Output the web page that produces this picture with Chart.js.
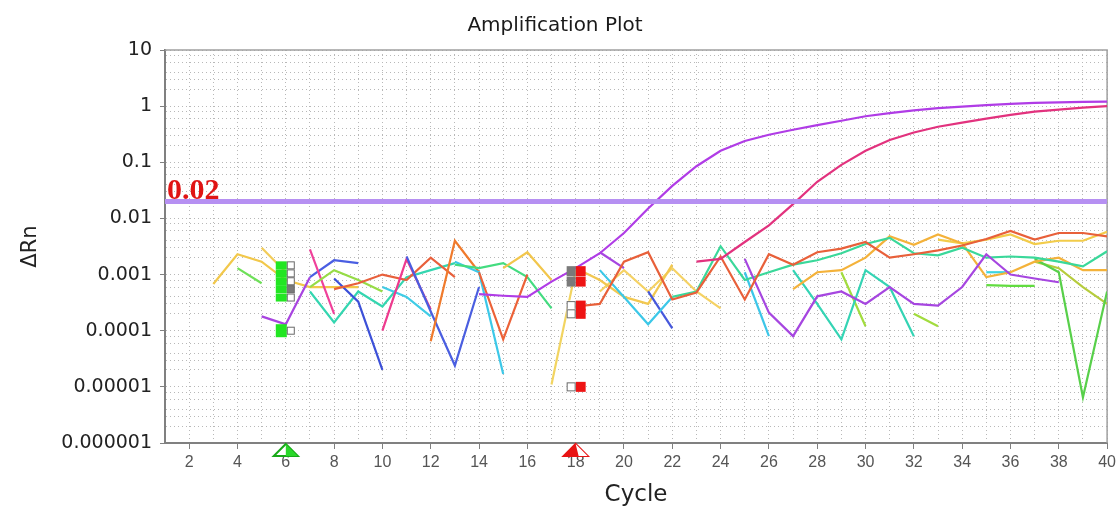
<!DOCTYPE html>
<html>
<head>
<meta charset="utf-8">
<script src="https://cdn.jsdelivr.net/npm/chart.js@4.4.1/dist/chart.umd.min.js"></script>
<style>
  html, body { margin: 0; padding: 0; background: #fff; }
  #wrap { width: 1120px; height: 512px; }
</style>
</head>
<body>
<div id="wrap"><canvas id="ampChart"></canvas></div>
<script>
const _ = null;

// ── axis data ──
const cycles = [1, 2, 3, 4, 5, 6, 7, 8, 9, 10, 11, 12, 13, 14, 15, 16, 17, 18, 19, 20,
  21, 22, 23, 24, 25, 26, 27, 28, 29, 30, 31, 32, 33, 34, 35, 36, 37, 38, 39, 40];
const xTickLabels = [2, 4, 6, 8, 10, 12, 14, 16, 18, 20, 22, 24, 26, 28, 30, 32, 34, 36, 38, 40];
const yTickLabels = [0.000001, 0.00001, 0.0001, 0.001, 0.01, 0.1, 1, 10];

// threshold and baseline window (start / end cycle)
const threshold = 0.02;
const baselineStart = 6;
const baselineEnd = 18;
const startMarkerLevels = [0.00146, 0.00105, 0.00076, 0.00055, 0.00039, 0.0001];
const endMarkerLevels = [0.00115, 0.00075, 0.00028, 0.0002, 0.00001];

// pad a trace so index 0 is cycle 1 (null = no reading)
function at(firstCycle, values) {
  return Array(firstCycle - 1).fill(null).concat(values);
}

// ── ΔRn traces ──
const ampA = at(14, [0.00045, 0.00042, 0.0004, 0.00075, 0.0013, 0.0024, 0.0055, 0.015, 0.038, 0.085,
  0.16, 0.24, 0.31, 0.38, 0.46, 0.55, 0.66, 0.75, 0.84, 0.92, 0.98, 1.04, 1.1, 1.14, 1.17, 1.19, 1.2]);
const ampB = at(23, [0.0017, 0.0019, 0.0038, 0.0075, 0.018, 0.045, 0.09, 0.16, 0.25, 0.34,
  0.43, 0.51, 0.6, 0.7, 0.8, 0.87, 0.94, 1.0]);

const yellow1 = at(3, [0.00068, 0.0023, 0.0017, 0.0008, 0.0006, 0.0006, 0.0006]);
const yellow2 = at(5, [0.003, 0.0011]);
const green1 = at(4, [0.0013, 0.0007]);
const purple1 = at(5, [0.00018, 0.00013, 0.0009]);
const blue1 = at(7, [0.0009, 0.0018, 0.0016]);
const magenta1 = at(7, [0.0028, 0.0002]);
const teal1 = at(7, [0.0005, 0.00014, 0.0005, 0.00027, 0.0009, 0.0012, 0.0016]);
const lime1 = at(7, [0.0006, 0.0012, 0.0008, 0.0005]);
const blue2 = at(8, [0.00085, 0.00033, 0.00002]);
const red1 = at(8, [0.00055, 0.0007, 0.001, 0.0008, 0.002, 0.0009]);
const cyan1 = at(10, [0.0006, 0.0004, 0.00018]);
const pink1 = at(10, [0.0001, 0.0019, 0.00024]);
const blue3 = at(11, [0.0021, 0.00022, 0.000024, 0.0006]);
const orange1 = at(12, [0.000065, 0.004, 0.0011]);
const cyan2 = at(13, [0.0017, 0.0011, 0.000017]);
const green2 = at(13, [0.0015, 0.0013, 0.0016, 0.0009, 0.00025]);
const orange2 = at(14, [0.0011, 0.00007, 0.001]);
const yellow3 = at(15, [0.0013, 0.0025, 0.0008]);
const yellow4 = at(17, [0.000011, 0.0012]);
const yellow5 = at(18, [0.0013, 0.0008, 0.0004, 0.0003, 0.0015]);
const yellow6 = at(19, [0.0005, 0.0012, 0.0005, 0.0013, 0.0005, 0.00025]);
const cyan3 = at(19, [0.0012, 0.0004, 0.00013, 0.0004]);
const blue4 = at(21, [0.0005, 0.00011]);
const red2 = at(18, [0.00027, 0.0003, 0.0017, 0.0025, 0.00036, 0.00048, 0.0021, 0.00036, 0.0023, 0.0015,
  0.0025, 0.0029, 0.0038, 0.002, 0.0023, 0.0027, 0.0033, 0.0043, 0.006, 0.0042, 0.0055, 0.0055, 0.0048]);
const tealGreen = at(22, [0.0004, 0.0005, 0.0032, 0.0008, 0.0011, 0.0015, 0.0018, 0.0024, 0.0035, 0.0045,
  0.0024, 0.0022, 0.003, 0.002, 0.0021, 0.002, 0.0017, 0.0014, 0.0026]);
const purple2 = at(19, [0.0025, 0.0013, _, _, _, _, 0.0019, 0.00021, 0.00008, 0.00041,
  0.0005, 0.0003, 0.0006, 0.0003, 0.00028, 0.0006, 0.0023, 0.001, 0.00085, 0.00073]);
const cyan4 = at(25, [0.0011, 0.00008]);
const teal2 = at(27, [0.0012, 0.0003, 0.00007, 0.0012, 0.0006, 0.00008]);
const yellowOrange = at(27, [0.00055, 0.0011, 0.0012, 0.002, 0.0048, 0.0034, 0.0052, 0.0036, 0.0009, 0.0011,
  0.0017, 0.002, 0.0012, 0.0012]);
const lime2 = at(29, [0.0011, 0.00012, _, 0.0002, 0.00012]);
const yellow7 = at(33, [0.0042, 0.0036, 0.0042, 0.0052, 0.0035, 0.004, 0.004, 0.0058]);
const cyan5 = at(35, [0.0011, 0.0011]);
const green3 = at(35, [0.00065, 0.00063, 0.00063]);
const green4 = at(37, [0.0019, 0.0011, 0.0000065, 0.0005]);
const olive1 = at(37, [0.0017, 0.0013, 0.0006, 0.0003]);

const traces = [
  [ampA, "#b03ce6"],
  [ampB, "#e2327e"],
  [red2, "#e8603a"],
  [purple2, "#a646e0"],
  [tealGreen, "#3ad89a"],
  [yellowOrange, "#f4b23a"],
  [yellow7, "#f2cc4a"],
  [teal2, "#34d4b4"],
  [lime2, "#a2dc3e"],
  [cyan4, "#3cc6e8"],
  [cyan5, "#3cd4e0"],
  [green3, "#62dc40"],
  [green4, "#58d04a"],
  [olive1, "#b6cc3c"],
  [cyan3, "#3cc8e8"],
  [blue4, "#4658dc"],
  [yellow5, "#f2c850"],
  [yellow6, "#f5d264"],
  [yellow4, "#f2d460"],
  [yellow3, "#f2c64c"],
  [orange2, "#ec6238"],
  [green2, "#44dc80"],
  [cyan2, "#3cc8e8"],
  [orange1, "#f07a2c"],
  [blue3, "#4a5ee0"],
  [pink1, "#ee3a8e"],
  [cyan1, "#40cce6"],
  [red1, "#e8603c"],
  [blue2, "#3c50d8"],
  [lime1, "#96dc46"],
  [teal1, "#34d6b0"],
  [magenta1, "#f0409a"],
  [blue1, "#4a5ee2"],
  [purple1, "#a844e0"],
  [green1, "#6ee058"],
  [yellow2, "#f2cc5a"],
  [yellow1, "#f2c84b"],
];

const datasets = [
  {
    data: [{ x: cycles[0], y: threshold }, { x: cycles[cycles.length - 1], y: threshold }],
    borderColor: "#b690f2",
    borderWidth: 5,
  },
].concat(
  traces.map(([values, color]) => ({
    data: values.map((v, i) => ({ x: cycles[i], y: v })),
    borderColor: color,
    borderWidth: 2.2,
  }))
);

// ── frame, threshold label and baseline markers ──
const overlayPlugin = {
  id: "overlay",
  beforeDatasetsDraw(chart) {
    const { ctx, chartArea: a } = chart;
    ctx.save();
    ctx.strokeStyle = "#a0a0a0";
    ctx.lineWidth = 1.5;
    ctx.beginPath();
    ctx.moveTo(a.left, a.top);
    ctx.lineTo(a.right, a.top);
    ctx.lineTo(a.right, a.bottom);
    ctx.stroke();
    ctx.restore();
  },
  afterDatasetsDraw(chart) {
    const { ctx, chartArea: a, scales: { x, y } } = chart;
    ctx.save();

    // threshold value
    ctx.fillStyle = "#e01414";
    ctx.font = 'bold 30px "Liberation Serif", "Times New Roman", serif';
    ctx.textBaseline = "alphabetic";
    ctx.fillText(String(threshold), a.left + 2, y.getPixelForValue(threshold) - 3);

    ctx.lineWidth = 1;
    // start markers (green)
    const gx = x.getPixelForValue(baselineStart);
    startMarkerLevels.forEach((v, i) => {
      const py = y.getPixelForValue(v);
      const h = i === startMarkerLevels.length - 1 ? 13 : 8;
      ctx.fillStyle = "#22e622";
      ctx.fillRect(gx - 10, py - h / 2, 11, h);
      ctx.fillStyle = i === 3 ? "#7a7a7a" : "#fff";
      ctx.fillRect(gx + 1.5, py - 3.5, 7, 7);
      ctx.strokeStyle = "#6a6a6a";
      ctx.strokeRect(gx + 1.5, py - 3.5, 7, 7);
    });

    // end markers (red)
    const rx = x.getPixelForValue(baselineEnd);
    endMarkerLevels.forEach((v, i) => {
      const py = y.getPixelForValue(v);
      ctx.fillStyle = "#ee1414";
      ctx.fillRect(rx, py - 5, 10, 10);
      ctx.fillStyle = i < 2 ? "#7a7a7a" : "#fff";
      ctx.fillRect(rx - 9, py - 5, 9, 10);
      if (i >= 2) {
        ctx.strokeStyle = "#6a6a6a";
        ctx.strokeRect(rx - 8.5, py - 4, 8, 8);
      }
    });

    // triangles on the cycle axis
    const tri = (cx, fill, edge) => {
      ctx.beginPath();
      ctx.moveTo(cx, a.bottom + 1);
      ctx.lineTo(cx + 12, a.bottom + 13);
      ctx.lineTo(cx - 12, a.bottom + 13);
      ctx.closePath();
      ctx.fillStyle = "#fff";
      ctx.fill();
      ctx.strokeStyle = edge;
      ctx.lineWidth = 2;
      ctx.stroke();
      ctx.beginPath();
      ctx.moveTo(cx, a.bottom + 1);
      ctx.lineTo(cx + 12, a.bottom + 13);
      ctx.lineTo(cx, a.bottom + 13);
      ctx.closePath();
      ctx.fillStyle = fill;
      ctx.fill();
    };
    tri(gx, "#2ad82a", "#18a818");
    tri(rx, "#fff", "#e81414");
    ctx.beginPath();
    ctx.moveTo(rx, a.bottom + 1);
    ctx.lineTo(rx - 12, a.bottom + 13);
    ctx.lineTo(rx + 3, a.bottom + 13);
    ctx.closePath();
    ctx.fillStyle = "#e81414";
    ctx.fill();

    ctx.restore();
  },
};

const minorSteps = [1, 2, 3, 4, 6, 8];
const sans = '"DejaVu Sans", Verdana, sans-serif';

new Chart(document.getElementById("ampChart"), {
  type: "line",
  data: { datasets },
  plugins: [overlayPlugin],
  options: {
    responsive: true,
    maintainAspectRatio: false,
    animation: false,
    layout: { padding: { left: 0, right: 10, top: 0, bottom: 0 } },
    elements: { point: { radius: 0 }, line: { tension: 0 } },
    plugins: {
      legend: { display: false },
      tooltip: { enabled: false },
      title: {
        display: true,
        text: "Amplification Plot",
        color: "#1a1a1a",
        font: { family: sans, size: 20, weight: "normal" },
        padding: { top: 14, bottom: 12 },
      },
    },
    scales: {
      x: {
        type: "linear",
        min: 1,
        max: 40,
        afterBuildTicks: (s) => {
          s.ticks = cycles.map((v) => ({ value: v }));
        },
        afterFit: (s) => {
          s.height = 69;
        },
        ticks: {
          autoSkip: false,
          maxRotation: 0,
          padding: 4,
          color: "#555",
          font: { family: '"Liberation Sans", Arial, sans-serif', size: 16 },
          callback: (v) => (xTickLabels.includes(v) ? String(v) : ""),
        },
        grid: {
          color: "#b8b8b8",
          lineWidth: 1,
          tickLength: 6,
          tickColor: (c) => (c.tick && xTickLabels.includes(c.tick.value) ? "#808080" : "transparent"),
        },
        border: { display: true, color: "#808080", width: 2, dash: [1, 3] },
        title: {
          display: true,
          text: "Cycle",
          color: "#222",
          font: { family: sans, size: 23 },
          padding: { top: 0, bottom: 3 },
        },
      },
      y: {
        type: "logarithmic",
        min: 0.000001,
        max: 10,
        afterBuildTicks: (s) => {
          const t = [];
          yTickLabels.forEach((d) => {
            minorSteps.forEach((m) => {
              if (d * m <= 10) t.push({ value: d * m });
            });
          });
          s.ticks = t;
        },
        afterFit: (s) => {
          s.width = 165;
        },
        ticks: {
          autoSkip: false,
          padding: 8,
          color: "#222",
          font: { family: sans, size: 19 },
          callback: (v) => (yTickLabels.includes(v) ? String(v) : ""),
        },
        grid: {
          color: "#b8b8b8",
          lineWidth: 1,
          tickLength: 5,
          tickColor: (c) => (c.tick && yTickLabels.includes(c.tick.value) ? "#808080" : "transparent"),
        },
        border: { display: true, color: "#808080", width: 2, dash: [1, 3] },
        title: {
          display: true,
          text: "ΔRn",
          color: "#222",
          font: { family: sans, size: 21 },
          padding: { top: 18, bottom: 0 },
        },
      },
    },
  },
});
</script>
</body>
</html>
